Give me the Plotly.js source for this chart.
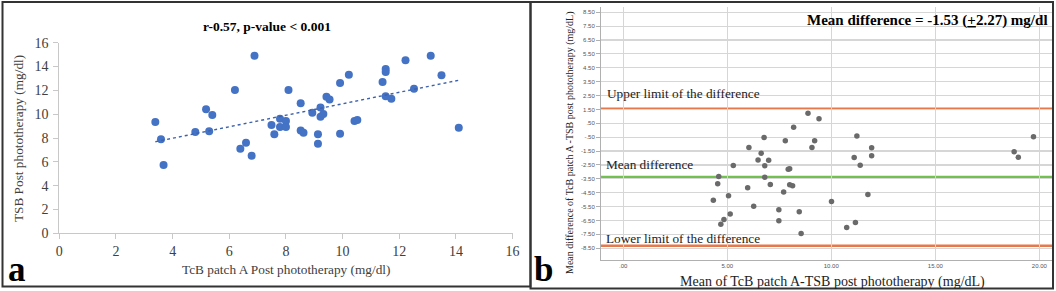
<!DOCTYPE html>
<html>
<head>
<meta charset="utf-8">
<script src="https://cdn.plot.ly/plotly-3.0.1.min.js"></script>
<style>
html,body{margin:0;padding:0;background:#ffffff;}
#chart{width:1056px;height:291px;}
</style>
</head>
<body>
<div id="chart"></div>
<script>
// ---------- Panel a: TcB patch A vs TSB (post phototherapy) ----------
const tcbPatchA = [3.39,3.59,3.68,4.80,5.18,5.29,5.40,6.20,6.39,6.59,6.79,6.89,7.49,7.59,7.79,7.79,8.00,8.00,8.09,8.52,8.52,8.62,8.93,9.13,9.13,9.22,9.22,9.32,9.43,9.54,9.91,9.91,10.22,10.42,10.52,11.41,11.52,11.52,11.52,11.72,12.22,12.52,13.11,13.49,14.10];
const tsbPost   = [9.34,7.89,5.73,8.50,10.41,8.56,9.93,12.03,7.10,7.61,6.52,14.91,9.09,8.31,9.62,8.92,9.43,8.92,12.03,10.91,8.62,8.45,10.13,8.31,7.52,10.55,9.79,10.01,11.47,11.24,12.62,8.36,13.31,9.43,9.51,12.70,13.79,13.54,11.50,11.30,14.52,12.14,14.91,13.26,8.87];
const ticksA = [0,2,4,6,8,10,12,14,16];

// ---------- Panel b: Bland-Altman ----------
const meanTcbTsb = [8.88,9.41,8.19,6.77,11.23,19.72,7.79,9.20,6.04,9.07,11.94,6.63,18.79,18.99,11.10,11.94,6.48,6.99,5.29,6.80,11.39,8.00,7.93,4.59,6.80,4.54,7.07,8.00,8.14,5.98,7.71,11.76,5.06,4.33,10.01,6.27,7.48,8.46,5.14,4.84,7.48,11.16,4.69,10.74,8.55];
const diffTcbTsb = [1.22,0.83,0.22,-0.52,-0.41,-0.47,-0.76,-0.76,-1.25,-1.25,-1.26,-1.65,-1.55,-1.94,-1.96,-1.83,-2.14,-2.16,-2.54,-2.56,-2.52,-2.77,-2.81,-3.33,-3.39,-3.85,-3.91,-3.93,-4.00,-4.15,-4.45,-4.63,-4.72,-5.04,-5.13,-5.48,-5.73,-5.88,-6.03,-6.44,-6.53,-6.65,-6.77,-7.01,-7.44];
const upperLimit = 1.55;
const meanDifference = -3.37;
const lowerLimit = -8.33;
const yTickValsB = [8.5,7.5,6.5,5.5,4.5,3.5,2.5,1.5,0.5,-0.5,-1.5,-2.5,-3.5,-4.5,-5.5,-6.5,-7.5,-8.5];
const yTickTextB = ["8.50","7.50","6.50","5.50","4.50","3.50","2.50","1.50",".50","-.50","-1.50","-2.50","-3.50","-4.50","-5.50","-6.50","-7.50","-8.50"];
const xTickValsB = [0,5,10,15,20];
const xTickTextB = [".00","5.00","10.00","15.00","20.00"];

// ---------- Texts ----------
const titleA = "<b>r-0.57, p-value &lt; 0.001</b>";
const xTitleA = "TcB patch A Post phototherapy (mg/dl)";
const yTitleA = "TSB Post phototherapy (mg/dl)";
const headingB = "<b>Mean difference = -1.53 (<u>+</u>2.27) mg/dl</b>";
const upperText = "Upper limit of the difference";
const meanText = "Mean difference";
const lowerText = "Lower limit of the difference";
const xTitleB = "Mean of TcB patch A-TSB post phototherapy (mg/dL)";
const yTitleB = "Mean difference of TcB patch A -TSB post phototherapy (mg/dL)";

// ---------- Linear trend (least squares from the panel a data) ----------
const n = tcbPatchA.length;
const mx = tcbPatchA.reduce((a,b)=>a+b,0)/n;
const my = tsbPost.reduce((a,b)=>a+b,0)/n;
let sxy = 0, sxx = 0;
for (let i=0;i<n;i++){ sxy += (tcbPatchA[i]-mx)*(tsbPost[i]-my); sxx += (tcbPatchA[i]-mx)*(tcbPatchA[i]-mx); }
const slope = sxy/sxx, intercept = my - slope*mx;
const xmin = Math.min(...tcbPatchA), xmax = Math.max(...tcbPatchA);
const trendX = [xmin, xmax];
const trendY = trendX.map(v => intercept + slope*v);

// ---------- Layout helpers (pixel -> paper) ----------
const W = 1056, H = 291;
const fx = p => p / W;
const fy = p => 1 - p / H;

const SERIF = "Liberation Serif, Times New Roman, serif";
const SANS = "Liberation Sans, Arial, sans-serif";

const traces = [
  { type:'scatter', mode:'markers', x:tcbPatchA, y:tsbPost, xaxis:'x', yaxis:'y',
    marker:{color:'#4472C4', size:8}, hoverinfo:'skip' },
  { type:'scatter', mode:'lines', x:trendX, y:trendY, xaxis:'x', yaxis:'y',
    line:{color:'#3d62ad', width:1.4, dash:'dot'}, hoverinfo:'skip' },
  { type:'scatter', mode:'markers', x:meanTcbTsb, y:diffTcbTsb, xaxis:'x2', yaxis:'y2',
    marker:{color:'#6a6a6a', size:5.5}, hoverinfo:'skip' }
];

const refLine = (v, color) => ({ type:'line', xref:'x2 domain', x0:0, x1:1, yref:'y2', y0:v, y1:v,
  line:{color:color, width:2.5}, layer:'below' });

const ann = (text, x, y, size, opts) => Object.assign({
  text:text, xref:'paper', yref:'paper', x:fx(x), y:fy(y), xanchor:'center', yanchor:'middle',
  showarrow:false, font:{family:SERIF, size:size, color:'#222'}
}, opts || {});

const layout = {
  width:W, height:H, margin:{l:0,r:0,t:0,b:0},
  paper_bgcolor:'#ffffff', plot_bgcolor:'rgba(0,0,0,0)', showlegend:false,
  xaxis:{ domain:[fx(59.3), fx(512.6)], range:[0,16], anchor:'y', tickvals:ticksA,
    showline:true, linecolor:'#c8c8c8', linewidth:1, ticks:'outside', ticklen:5, tickcolor:'#c8c8c8',
    showgrid:false, zeroline:false, fixedrange:true,
    tickfont:{family:SERIF, size:14, color:'#404040'} },
  yaxis:{ domain:[fy(233.3), fy(42.7)], range:[0,16], anchor:'x', tickvals:ticksA,
    showline:true, linecolor:'#c8c8c8', linewidth:1, ticks:'outside', ticklen:5, tickcolor:'#c8c8c8',
    showgrid:false, zeroline:false, fixedrange:true, ticklabelstandoff:2,
    tickfont:{family:SERIF, size:14, color:'#404040'} },
  xaxis2:{ domain:[fx(601), fx(1052)], range:[-1.07, 20.61], anchor:'y2',
    tickvals:xTickValsB, ticktext:xTickTextB,
    showline:true, linecolor:'#b0b0b0', linewidth:1, ticks:'',
    showgrid:true, gridcolor:'#d6d6d6', gridwidth:1.5, zeroline:false, fixedrange:true,
    tickfont:{family:SANS, size:6, color:'#555'} },
  yaxis2:{ domain:[fy(260), fy(6.7)], range:[-9.35, 8.9], anchor:'x2',
    tickvals:yTickValsB, ticktext:yTickTextB,
    showline:true, linecolor:'#b0b0b0', linewidth:1, ticks:'outside', ticklen:4, tickcolor:'#b0b0b0',
    showgrid:true, gridcolor:'#d6d6d6', gridwidth:1.2, zeroline:false, fixedrange:true,
    tickfont:{family:SANS, size:6, color:'#555'} },
  shapes:[
    refLine(upperLimit, '#e5794c'),
    refLine(meanDifference, '#72c050'),
    refLine(lowerLimit, '#e5794c'),
    { type:'rect', xref:'paper', yref:'paper', x0:fx(2.5), x1:fx(530.5), y0:fy(286.5), y1:fy(2),
      line:{color:'#333', width:2} },
    { type:'rect', xref:'paper', yref:'paper', x0:fx(530.5), x1:fx(1053), y0:fy(288.5), y1:fy(2),
      line:{color:'#333', width:2} }
  ],
  annotations:[
    ann(titleA, 266.5, 26, 13.5, {font:{family:SERIF, size:13.5, color:'#000'}}),
    ann(xTitleA, 285.5, 269.5, 13.3, {font:{family:SERIF, size:13.3, color:'#404040'}}),
    ann(yTitleA, 18.6, 138.5, 13.3, {textangle:-90, font:{family:SERIF, size:13.3, color:'#404040'}}),
    ann('<b>a</b>', 6, 269.5, 35, {xanchor:'left', font:{family:SERIF, size:35, color:'#000'}}),
    ann(headingB, 1050, 21, 15, {xanchor:'right', font:{family:SERIF, size:15, color:'#000'}}),
    ann(upperText, 605, 94, 13.3, {xanchor:'left'}),
    ann(meanText, 604, 164, 13.3, {xanchor:'left'}),
    ann(lowerText, 604, 238, 13.3, {xanchor:'left'}),
    ann(xTitleB, 832, 281.5, 14),
    ann(yTitleB, 570, 143, 10, {textangle:-90}),
    ann('<b>b</b>', 532, 269.5, 35, {xanchor:'left', font:{family:SERIF, size:35, color:'#000'}})
  ]
};

Plotly.newPlot('chart', traces, layout, {displayModeBar:false, staticPlot:true, responsive:false});
</script>
</body>
</html>
